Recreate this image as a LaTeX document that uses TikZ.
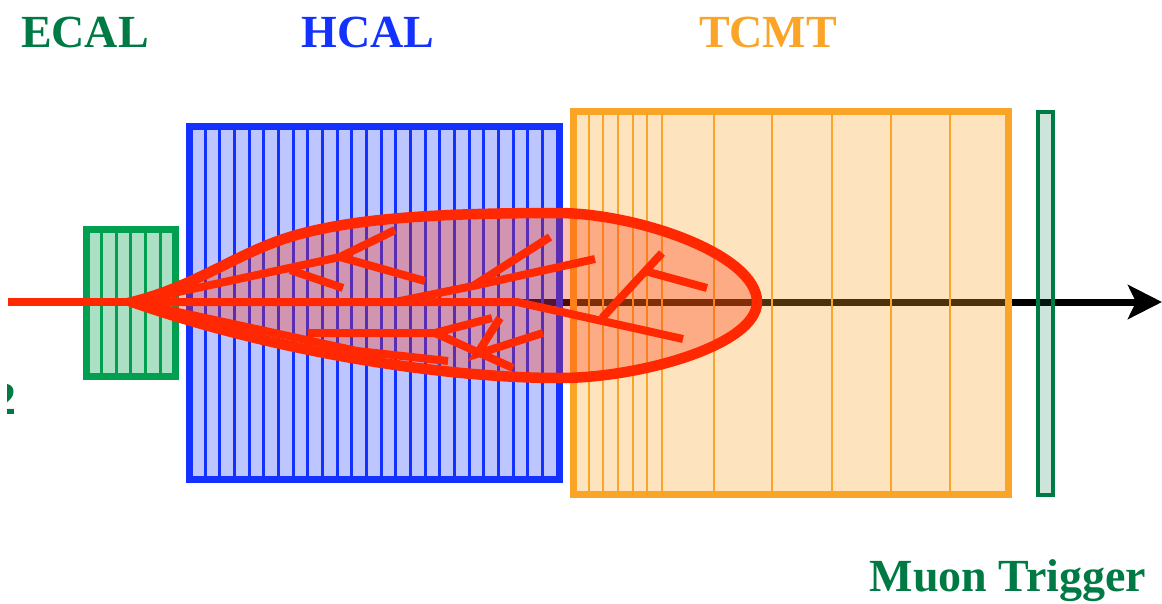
\documentclass[tikz,border=0pt]{standalone}
\usepackage{fontspec}
\setmainfont{Liberation Serif}
\usetikzlibrary{arrows.meta}
\definecolor{ecalgreen}{RGB}{0,160,80}
\definecolor{labgreen}{RGB}{0,122,68}
\definecolor{hcalblue}{RGB}{20,50,255}
\definecolor{tcmtorange}{RGB}{250,165,40}
\definecolor{showerred}{RGB}{255,40,0}
\tikzset{
  lbl/.style={font=\fontsize{46}{50}\selectfont\bfseries, inner sep=0pt, anchor=base},
  det/.style={line width=#1, line join=miter},
  layer/.style={line width=#1},
  trk/.style={showerred, line width=8},
  axis/.style={line width=7, -{Stealth[length=34pt,width=34pt,inset=8pt]}},
}

\begin{document}
\begin{tikzpicture}[x=1pt,y=-1pt]
\useasboundingbox (0,0) rectangle (1162,603);
% beam axis
\coordinate (axin) at (460,302);
\coordinate (axout) at (1162,302);
\draw[axis] (axin) -- (axout);
% ECAL
\draw[det=7, draw=ecalgreen, fill=ecalgreen, fill opacity=.33] (86.5,229.5) rectangle (175.5,376.5);
\foreach \x in {101,116,130,145,160}
  \draw[layer=3, ecalgreen] (\x,231) -- (\x,375);
% HCAL
\draw[det=7, draw=hcalblue, fill=hcalblue, fill opacity=.28] (189.5,126.5) rectangle (559.5,479.5);
\foreach \i in {0,...,23}
  \draw[layer=3, hcalblue] (205+14.67*\i,128) -- (205+14.67*\i,478);
% TCMT
\draw[det=7, draw=tcmtorange, fill=tcmtorange, fill opacity=.3] (573.5,111.5) rectangle (1008.5,494.5);
\foreach \x in {589,603,618,633,647,662,714,772,832,891,950}
  \draw[layer=2.5, tcmtorange] (\x,113) -- (\x,493);
% muon trigger plane
\draw[det=4, draw=labgreen, fill=labgreen, fill opacity=.2] (1038,112) rectangle (1053,495);
% shower envelope
\coordinate (vtx) at (132,302);
\draw[showerred, line width=10.5, fill=showerred, fill opacity=.3]
  (vtx) .. controls (200,285) and (240,250) .. (300,234)
  .. controls (360,218) and (440,213) .. (560,213)
  .. controls (640,214) and (757,255) .. (757,302)
  .. controls (757,345) and (640,378) .. (560,378)
  .. controls (430,378) and (260,347) .. (vtx) -- cycle;
% incoming pion and shower tracks
\coordinate (pin) at (8,302);
\draw[showerred, line width=8] (pin) -- (vtx);
\draw[trk] (vtx) -- (517,302) -- (683,339);
\draw[trk] (vtx) -- (340,257) -- (395,230);
\draw[trk] (340,257) -- (425,281);
\draw[trk] (290,270) -- (343,288);
\draw[trk] (395,302) -- (473,286) -- (595,259);
\draw[trk] (473,286) -- (550,237);
\draw[trk] (308,333) -- (435,333) -- (492,318);
\draw[trk] (435,333) -- (513,368);
\draw[trk] (500,318) -- (477,354) -- (543,333);
\draw[trk] (vtx) -- (357,351) -- (448,361);
\draw[trk] (602,318) -- (662,253);
\draw[trk] (645,271) -- (707,288);
% labels
\node[lbl, text=labgreen] (ecal) at (85,47) {ECAL};
\node[lbl, text=hcalblue] (hcal) at (368,47) {HCAL};
\node[lbl, text=tcmtorange] (tcmt) at (768,47) {TCMT};
\node[lbl, text=labgreen] (muon) at (1008,591) {Muon Trigger};
\begin{scope}
  \clip (7,360) rectangle (40,430);
  \node[lbl, text=labgreen, anchor=base east] (cut) at (17,414) {2};
\end{scope}
\end{tikzpicture}
\end{document}
